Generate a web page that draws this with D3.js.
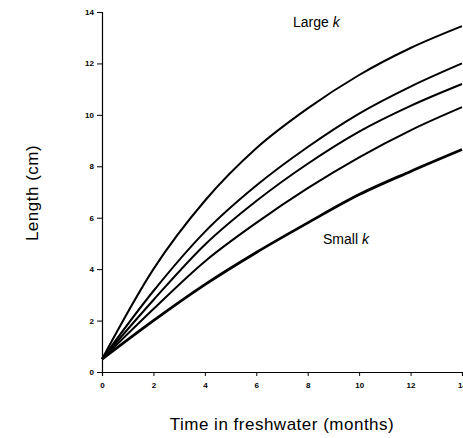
<!DOCTYPE html>
<html><head><meta charset="utf-8">
<script src="https://cdn.jsdelivr.net/npm/d3@7"></script>
<style>body{margin:0;background:#fff;}svg{display:block;}</style>
</head><body>
<script>
const months = [0, 2, 4, 6, 8, 10, 12, 14];
const curveLarge = [0.5, 4.0, 6.66, 8.7, 10.25, 11.55, 12.6, 13.45];
const curve2 = [0.5, 3.15, 5.45, 7.25, 8.75, 10.05, 11.1, 12.0];
const curve3 = [0.5, 2.8, 4.95, 6.65, 8.1, 9.35, 10.35, 11.2];
const curve4 = [0.5, 2.45, 4.3, 5.8, 7.15, 8.35, 9.4, 10.3];
const curveSmall = [0.5, 2.0, 3.4, 4.65, 5.8, 6.9, 7.8, 8.65];
const xTicks = [0, 2, 4, 6, 8, 10, 12, 14];
const yTicks = [0, 2, 4, 6, 8, 10, 12, 14];
const seriesList = [curveLarge, curve2, curve3, curve4, curveSmall];

const W = 463, H = 438;
const svg = d3.select("body").append("svg").attr("width", W).attr("height", H);
const x = d3.scaleLinear().domain([0, 14]).range([102, 462]);
const y = d3.scaleLinear().domain([0, 14]).range([372, 12]);

const font = "Liberation Sans, Arial, sans-serif";

const yAxis = svg.append("g").attr("transform", "translate(102,0)")
  .call(d3.axisLeft(y).tickValues(yTicks).tickSize(5).tickPadding(3).tickFormat(d3.format("d")));
const xAxis = svg.append("g").attr("transform", "translate(0,372)")
  .call(d3.axisBottom(x).tickValues(xTicks).tickSize(4).tickPadding(6).tickFormat(d3.format("d")));
[yAxis, xAxis].forEach(a => {
  a.select(".domain").attr("stroke", "#000").attr("stroke-width", 1.2);
  a.selectAll(".tick line").attr("stroke", "#000").attr("stroke-width", 1);
  a.selectAll(".tick text").attr("font-family", font).attr("font-size", 8).attr("font-weight", "bold").attr("fill", "#000");
});

const line = d3.line().x((d, i) => x(months[i])).y(d => y(d)).curve(d3.curveMonotoneX);
seriesList.forEach((s, i) => {
  svg.append("path").datum(s).attr("d", line).attr("fill", "none")
    .attr("stroke", "#000").attr("stroke-width", i === 4 ? 2.8 : 2);
});

svg.append("text").attr("x", 293).attr("y", 27).attr("font-family", font).attr("font-size", 14)
  .html('Large <tspan font-style="italic">k</tspan>');
svg.append("text").attr("x", 323).attr("y", 244).attr("font-family", font).attr("font-size", 14)
  .html('Small <tspan font-style="italic">k</tspan>');

svg.append("text").attr("x", 282).attr("y", 430).attr("text-anchor", "middle")
  .attr("font-family", font).attr("font-size", 17).attr("letter-spacing", 0.5).text("Time in freshwater (months)");
svg.append("text").attr("transform", "translate(38,193) rotate(-90)").attr("text-anchor", "middle")
  .attr("font-family", font).attr("font-size", 17).attr("letter-spacing", 0.5).text("Length (cm)");
</script>
</body></html>
